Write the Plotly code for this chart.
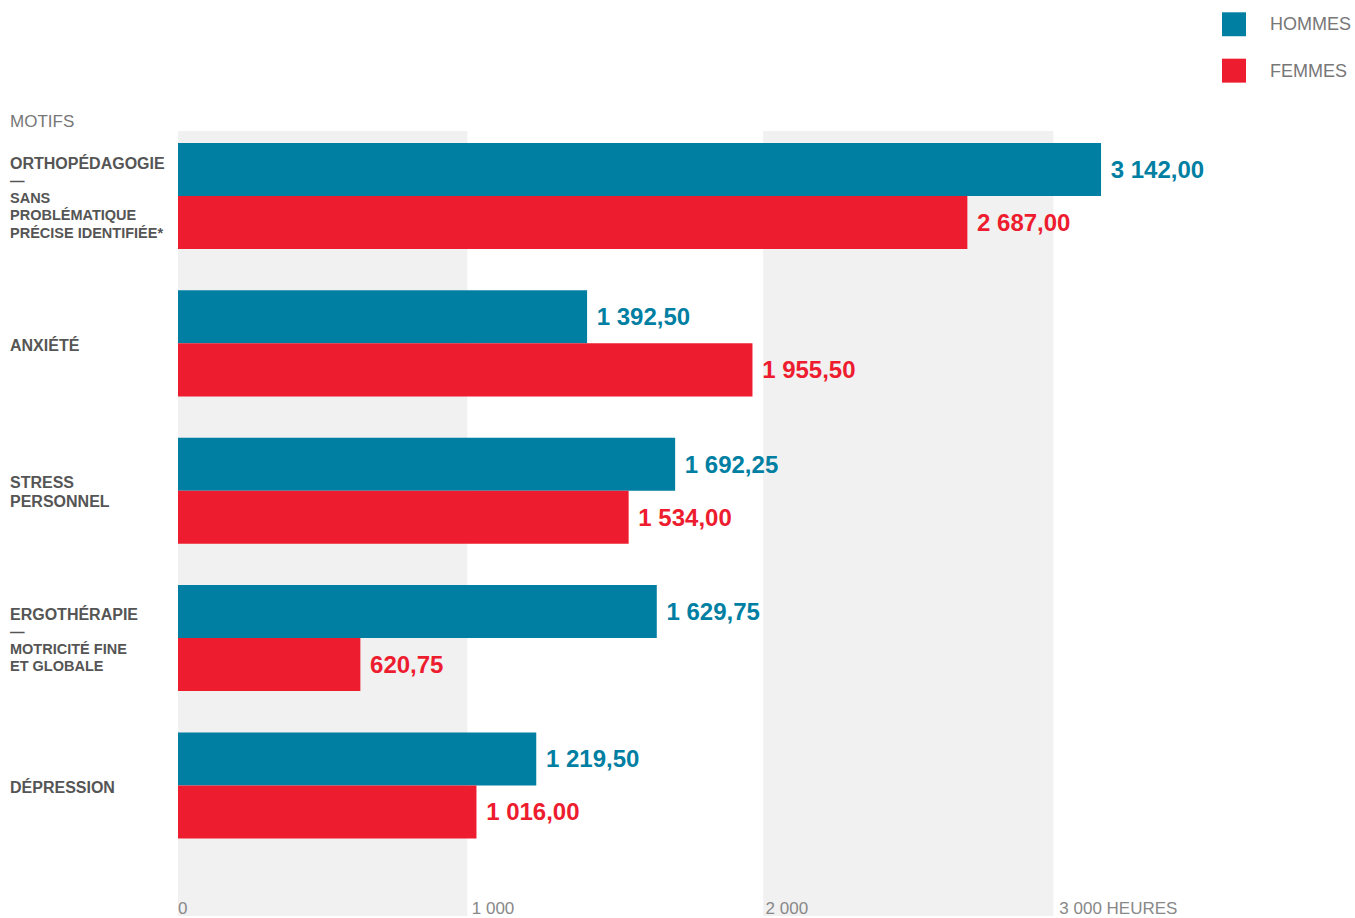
import plotly.graph_objects as go

# Hours of intervention by reason, split by gender
motifs = ["ORTHOPÉDAGOGIE", "ANXIÉTÉ", "STRESS PERSONNEL", "ERGOTHÉRAPIE", "DÉPRESSION"]
H = "<span style='font-size:16px'>{}</span>"
S = "<span style='font-size:14.5px'>{}</span>"
motif_labels = [
    "<b>" + H.format("ORTHOPÉDAGOGIE") + "<br>" + S.format("—") + "<br>" + S.format("SANS")
    + "<br>" + S.format("PROBLÉMATIQUE") + "<br>" + S.format("PRÉCISE IDENTIFIÉE*") + "</b>",
    "<b>" + H.format("ANXIÉTÉ") + "</b>",
    "<b>" + H.format("STRESS") + "<br>" + H.format("PERSONNEL") + "</b>",
    "<b>" + H.format("ERGOTHÉRAPIE") + "<br>" + S.format("—") + "<br>" + S.format("MOTRICITÉ FINE")
    + "<br>" + S.format("ET GLOBALE") + "</b>",
    "<b>" + H.format("DÉPRESSION") + "</b>",
]
# line spacing of each label block
label_sizes = [13.2, 13.2, 14.6, 13.2, 13.2]
hommes = [3142.00, 1392.50, 1692.25, 1629.75, 1219.50]
femmes = [2687.00, 1955.50, 1534.00, 620.75, 1016.00]
series_names = ["HOMMES", "FEMMES"]

tick_vals = [0, 1000, 2000, 3000]
tick_text = ["0", "1 000", "2 000", "3 000 HEURES"]

BLUE = "#007FA3"
RED = "#ED1C2E"
FONT = "Liberation Sans, Arial, sans-serif"

# Plot area geometry (pixels)
L, T, W, HGT = 178, 131, 1057, 787


def px_x(px):
    return (px - L) / W


def px_y(py):
    return 1 + (T - py) / HGT


fig = go.Figure()
for name, values, color in [(series_names[0], hommes, BLUE), (series_names[1], femmes, RED)]:
    fig.add_trace(go.Bar(
        y=motifs, x=values, name=name, orientation="h",
        marker=dict(color=color, line=dict(width=0)),
        texttemplate="\u00a0%{x:,.2f}", textposition="outside",
        textfont=dict(family=FONT, size=24, color=color, weight="bold"),
        cliponaxis=False, showlegend=False,
    ))

# Alternating background bands
for x0, x1 in [(0, 985), (1992, 2980)]:
    fig.add_shape(type="rect", xref="x", yref="paper", x0=x0, x1=x1, y0=0, y1=1,
                  fillcolor="#F1F1F1", line=dict(width=0), layer="below")

# Category labels, left aligned in the margin
for cat, lab, sz in zip(motifs, motif_labels, label_sizes):
    fig.add_annotation(x=px_x(8), xref="paper", y=cat, yref="y", text=lab,
                       xanchor="left", yanchor="middle", align="left", showarrow=False,
                       yshift=-1.5, font=dict(family=FONT, size=sz, color="#555555"))

fig.add_annotation(x=px_x(8), xref="paper", y=px_y(121), yref="paper", text="MOTIFS",
                   showarrow=False, xanchor="left", yanchor="middle",
                   font=dict(family=FONT, size=17, color="#777777"))

# Custom legend
for i, (name, color) in enumerate([(series_names[0], BLUE), (series_names[1], RED)]):
    yc = 24 + i * 46.5
    fig.add_shape(type="rect", xref="paper", yref="paper",
                  x0=px_x(1222), x1=px_x(1246), y0=px_y(yc - 12), y1=px_y(yc + 12),
                  fillcolor=color, line=dict(width=0))
    fig.add_annotation(x=px_x(1268), xref="paper", y=px_y(yc), yref="paper",
                       text=name, showarrow=False, xanchor="left", yanchor="middle",
                       font=dict(family=FONT, size=18, color="#777777"))

fig.update_layout(
    width=1355, height=918, autosize=False,
    margin=dict(l=L, r=1355 - L - W, t=T, b=0),
    paper_bgcolor="white", plot_bgcolor="white",
    barmode="group", bargap=0.28, bargroupgap=0,
    separators=", ",
    font=dict(family=FONT),
    xaxis=dict(range=[0, 3598], tickvals=tick_vals, ticktext=tick_text,
               ticklabelposition="inside right", ticklabelstandoff=-7,
               showgrid=False, zeroline=False, showline=False, ticks="",
               tickfont=dict(family=FONT, size=17, color="#888888")),
    yaxis=dict(range=[4.886, -0.441], showticklabels=False, showgrid=False,
               zeroline=False, showline=False, ticks=""),
)

fig.write_html("out.html")
